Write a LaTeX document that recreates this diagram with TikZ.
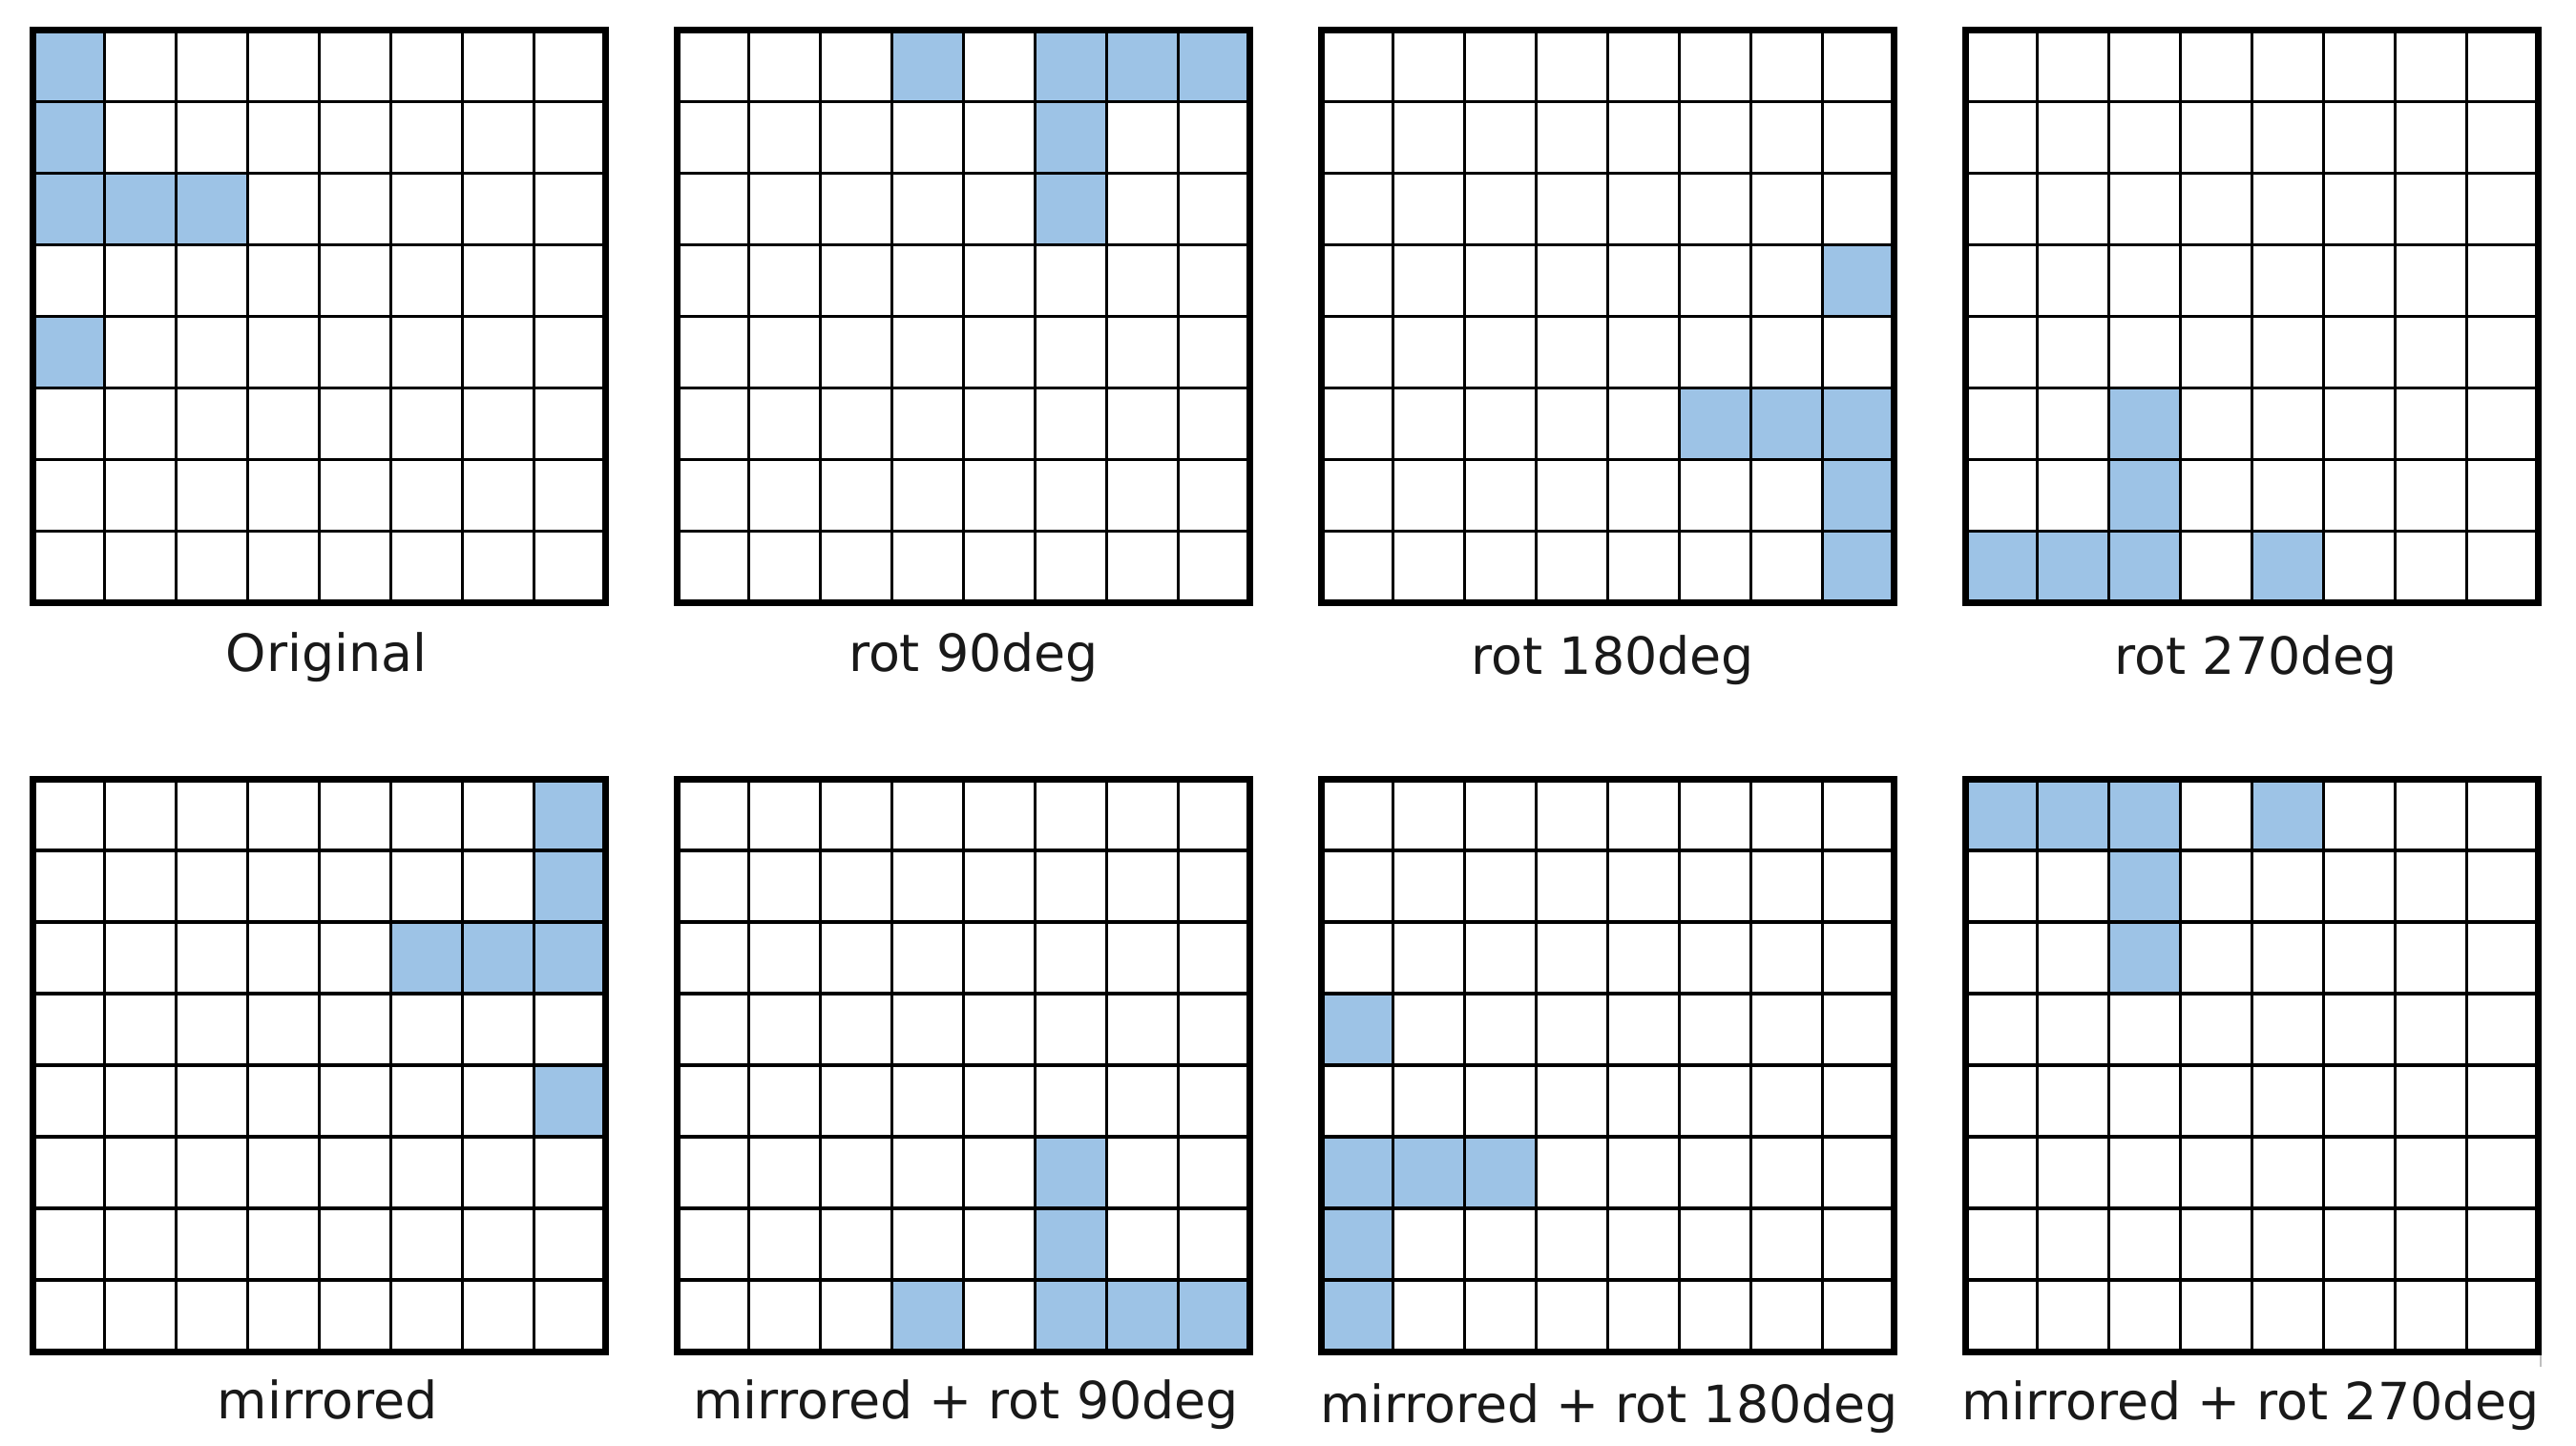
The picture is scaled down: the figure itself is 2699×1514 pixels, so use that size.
\documentclass[tikz,border=0pt]{standalone}
\usepackage{fontspec}
\setmainfont{DejaVu Sans}
\definecolor{cellblue}{HTML}{9DC3E6}
\newcommand\cellgrid[3]{%
  \begin{scope}[shift={(#1,#2)}]
    \foreach \r/\c in {#3} {\fill[cellblue] (\c*75,\r*75) rectangle ++(75,75);}
    \foreach \i in {1,...,7} {
      \draw[gridline] (\i*75,0) -- (\i*75,600);
      \draw[gridline] (0,\i*75) -- (600,\i*75);
    }
    \draw[frameline] (0,0) rectangle (600,600);
  \end{scope}}
\begin{document}
\begin{tikzpicture}[x=0.25pt,y=-0.25pt,
  gridline/.style={line width=0.85pt,black},
  frameline/.style={line width=1.75pt,black},
  lbl/.style={anchor=base,inner sep=0pt,text=black!90,font=\fontsize{13.45}{16}\selectfont}]
\useasboundingbox (0,0) rectangle (2699,1514);
% top row
\cellgrid{34.5}{31.5}{0/0,1/0,2/0,2/1,2/2,4/0}
\cellgrid{709.5}{31.5}{0/3,0/5,0/6,0/7,1/5,2/5}
\cellgrid{1384.5}{31.5}{3/7,5/5,5/6,5/7,6/7,7/7}
\cellgrid{2059.5}{31.5}{5/2,6/2,7/0,7/1,7/2,7/4}
% bottom row
\cellgrid{34.5}{816}{0/7,1/7,2/5,2/6,2/7,4/7}
\cellgrid{709.5}{816}{5/5,6/5,7/3,7/5,7/6,7/7}
\cellgrid{1384.5}{816}{3/0,5/0,5/1,5/2,6/0,7/0}
\cellgrid{2059.5}{816}{0/0,0/1,0/2,0/4,1/2,2/2}
% labels
\node[lbl] (l1) at (342,703) {Original};
\node[lbl] (l2) at (1020,703) {rot 90deg};
\node[lbl] (l3) at (1690,706) {rot 180deg};
\node[lbl] (l4) at (2364,706) {rot 270deg};
\node[lbl] (l5) at (343,1486) {mirrored};
\node[lbl] (l6) at (1012,1486) {mirrored + rot 90deg};
\node[lbl] (l7) at (1686,1490) {mirrored + rot 180deg};
\node[lbl] (l8) at (2358,1487) {mirrored + rot 270deg};
\draw[black!25,line width=0.6pt] (2662,1420) -- (2662,1432);
\end{tikzpicture}
\end{document}
